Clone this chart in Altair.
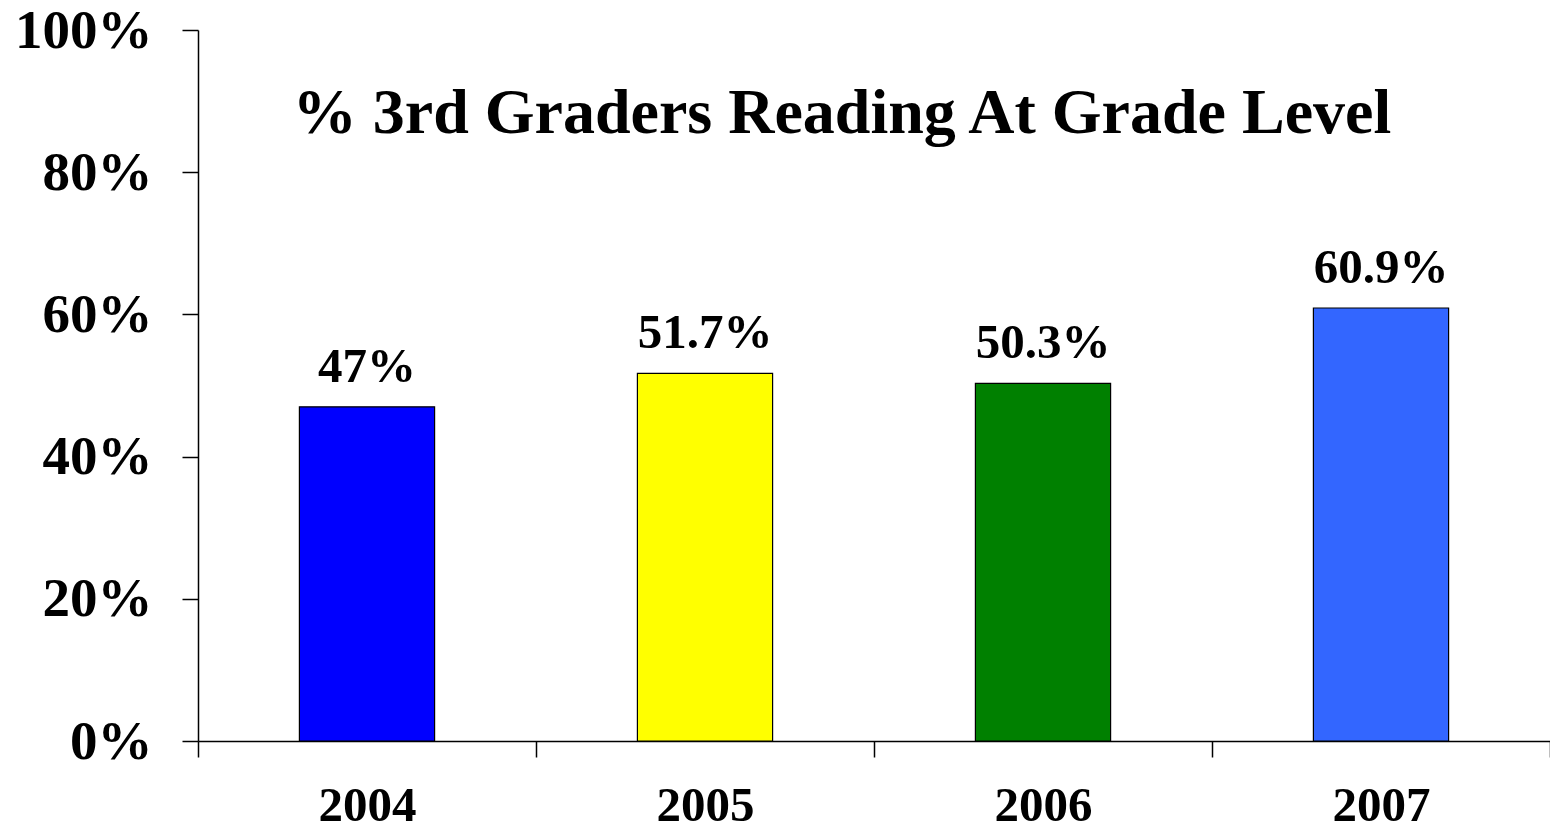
import altair as alt
import pandas as pd

years = ["2004", "2005", "2006", "2007"]
values = [47, 51.7, 50.3, 60.9]
labels = ["47%", "51.7%", "50.3%", "60.9%"]
colors = ["#0000FF", "#FFFF00", "#008000", "#3366FF"]
y_ticks = [0, 20, 40, 60, 80, 100]
title_text = "% 3rd Graders Reading At Grade Level"

df = pd.DataFrame({"year": years, "value": values, "label": labels})

FONT = "Liberation Serif"

x_enc = alt.X(
    "year:N",
    sort=years,
    scale=alt.Scale(paddingInner=0, paddingOuter=0),
    axis=alt.Axis(
        title=None,
        labelAngle=0,
        labelFont=FONT,
        labelFontWeight="bold",
        labelFontSize=49,
        labelColor="#000",
        labelPadding=24,
        tickBand="extent",
        tickSize=16,
        tickColor="#000",
        tickWidth=1.5,
        domainColor="#000",
        domainWidth=1.5,
        grid=False,
    ),
)
y_enc = alt.Y(
    "value:Q",
    scale=alt.Scale(domain=[0, 100], nice=False),
    axis=alt.Axis(
        title=None,
        values=y_ticks,
        labelExpr="datum.value + '%'",
        labelFont=FONT,
        labelFontWeight="bold",
        labelFontSize=55,
        labelColor="#000",
        labelPadding=30,
        tickSize=16,
        tickColor="#000",
        tickWidth=1.5,
        domainColor="#000",
        domainWidth=1.5,
        grid=False,
    ),
)

base = alt.Chart(df)

bars = base.mark_bar(stroke="#000", strokeWidth=1.2, width={"band": 0.4}).encode(
    x=x_enc,
    y=y_enc,
    color=alt.Color("year:N", scale=alt.Scale(domain=years, range=colors), legend=None),
)

text = base.mark_text(
    font=FONT, fontWeight="bold", fontSize=49, baseline="alphabetic", dy=-25, color="#000"
).encode(x=alt.X("year:N", sort=years), y="value:Q", text="label:N")

title = alt.Chart(pd.DataFrame({"t": [title_text]})).mark_text(
    font=FONT, fontWeight="bold", fontSize=64, baseline="alphabetic", align="center", color="#000"
).encode(x=alt.value(644), y=alt.value(103), text="t:N")

chart = (
    alt.layer(bars, text, title)
    .properties(
        width=1352,
        height=711,
        autosize=alt.AutoSizeParams(type="none"),
        padding={"left": 190, "top": 22, "right": 0, "bottom": 87},
    )
    .configure_view(stroke=None)
)

chart.save("out.html", embed_options={"renderer": "svg", "actions": False})
